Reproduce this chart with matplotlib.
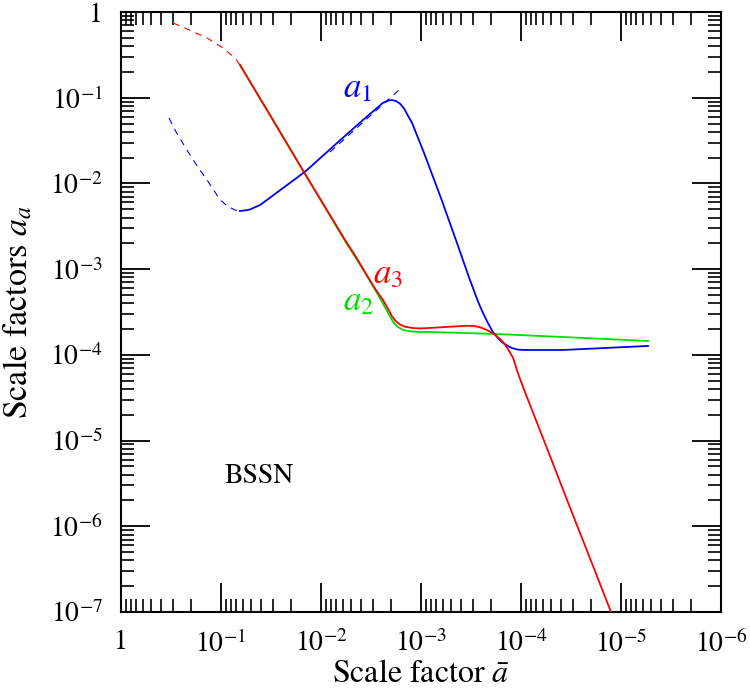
import numpy as np
import matplotlib
matplotlib.use("Agg")
import matplotlib.pyplot as plt
from matplotlib.ticker import LogLocator, FixedLocator, FixedFormatter, NullFormatter

# ---- data ----
# a3 (red): early-time dashed extension, then solid curve
red_dash_x = [0.302, 0.229, 0.138, 0.0955, 0.0724, 0.0646]
red_dash_y = [0.744, 0.651, 0.497, 0.380, 0.290, 0.241]
red_x = [0.0646, 0.0324, 0.0138, 5.75e-3, 4.47e-3, 3.55e-3, 2.88e-3, 2.40e-3,
         2.14e-3, 1.95e-3, 1.78e-3, 1.62e-3, 1.45e-3, 1.23e-3, 1.02e-3,
         8.13e-4, 5.13e-4, 3.63e-4, 3.02e-4, 2.57e-4, 2.24e-4, 2.00e-4, 1.78e-4,
         1.62e-4, 1.48e-4, 1.35e-4, 1.20e-4, 1.07e-4, 9.55e-5, 8.32e-5, 5.75e-5,
         3.24e-5, 1.86e-5, 1.26e-5, 1.12e-5]
red_y = [0.241, 0.0629, 0.0118, 2.19e-3, 1.39e-3, 8.80e-4, 5.92e-4, 4.37e-4,
         3.45e-4, 2.82e-4, 2.45e-4, 2.26e-4, 2.13e-4, 2.06e-4, 2.03e-4,
         2.06e-4, 2.13e-4, 2.18e-4, 2.18e-4, 2.10e-4, 1.97e-4, 1.84e-4, 1.68e-4,
         1.53e-4, 1.37e-4, 1.17e-4, 9.19e-5, 6.07e-5, 4.22e-5, 2.79e-5, 9.29e-6,
         1.66e-6, 3.20e-7, 1.0e-7, 7.05e-8]

# a2 (green)
green_x = [0.0646, 0.0324, 0.0138, 5.75e-3, 3.55e-3, 2.45e-3, 2.19e-3, 2.00e-3,
           1.86e-3, 1.70e-3, 1.51e-3, 1.29e-3, 1.02e-3, 8.13e-4, 1.74e-4,
           3.80e-5, 5.37e-6]
green_y = [0.241, 0.0629, 0.0118, 2.13e-3, 8.77e-4, 4.14e-4, 3.26e-4, 2.68e-4,
           2.34e-4, 2.11e-4, 1.95e-4, 1.88e-4, 1.85e-4, 1.85e-4, 1.75e-4,
           1.615e-4, 1.45e-4]

# a1 (blue): early-time dashed extension, solid curve, dashed asymptote
blue_dash_x = [0.331, 0.285, 0.219, 0.174, 0.138, 0.102, 0.0851, 0.0724, 0.0646]
blue_dash_y = [0.058, 0.0409, 0.0245, 0.0161, 0.01096, 6.41e-3, 5.38e-3,
               4.90e-3, 4.77e-3]
blue_x = [0.0646, 0.0575, 0.0513, 0.0407, 0.0324, 0.0240, 0.0182, 0.0138,
          6.92e-3, 3.80e-3, 2.40e-3, 2.14e-3, 1.95e-3, 1.78e-3, 1.62e-3,
          1.48e-3, 1.35e-3, 1.23e-3, 9.33e-4, 6.31e-4, 4.47e-4, 3.24e-4,
          2.69e-4, 2.40e-4, 2.14e-4, 1.91e-4, 1.70e-4, 1.51e-4, 1.35e-4,
          1.23e-4, 1.07e-4, 9.55e-5, 3.80e-5, 5.37e-6]
blue_y = [4.77e-3, 4.84e-3, 4.97e-3, 5.60e-3, 6.81e-3, 8.84e-3, 0.0112,
          0.01434, 0.0296, 0.0550, 0.0872, 0.0925, 0.0940, 0.0915, 0.0851,
          0.0752, 0.0617, 0.0510, 0.0227, 6.74e-3, 2.18e-3, 7.47e-4,
          4.18e-4, 3.08e-4, 2.35e-4, 1.85e-4, 1.57e-4, 1.375e-4, 1.27e-4,
          1.20e-4, 1.15e-4, 1.14e-4, 1.14e-4, 1.27e-4]
blue_asym_x = [8.13e-3, 1.62e-3]
blue_asym_y = [0.02326, 0.1264]

x_ticks = [1, 1e-1, 1e-2, 1e-3, 1e-4, 1e-5, 1e-6]
x_tick_labels = ['1', r'$10^{-1}$', r'$10^{-2}$', r'$10^{-3}$', r'$10^{-4}$',
                 r'$10^{-5}$', r'$10^{-6}$']
y_ticks = [1, 1e-1, 1e-2, 1e-3, 1e-4, 1e-5, 1e-6, 1e-7]
y_tick_labels = ['1', r'$10^{-1}$', r'$10^{-2}$', r'$10^{-3}$', r'$10^{-4}$',
                 r'$10^{-5}$', r'$10^{-6}$', r'$10^{-7}$']

# ---- style ----
plt.rcParams['font.family'] = ['STIXGeneral', 'Liberation Serif', 'DejaVu Serif']
plt.rcParams['mathtext.fontset'] = 'stix'

BLUE = '#0000ff'
RED = '#ff0000'
GREEN = '#00e000'

fig = plt.figure(figsize=(7.5, 6.9), dpi=100)
ax = fig.add_axes([121/750, 78/690, 600/750, 600/690])
ax.set_xscale('log')
ax.set_yscale('log')

lw = 1.3
ax.plot(green_x, green_y, color=GREEN, lw=lw, zorder=3)
ax.plot(blue_x, blue_y, color=BLUE, lw=lw, zorder=3)
ax.plot(red_x, red_y, color=RED, lw=lw, zorder=4)
ax.plot(red_dash_x, red_dash_y, color=RED, lw=0.8, dashes=(6, 5), zorder=3)
ax.plot(blue_dash_x, blue_dash_y, color=BLUE, lw=0.8, dashes=(6, 5), zorder=3)
ax.plot(blue_asym_x, blue_asym_y, color=BLUE, lw=0.8, dashes=(6, 5), zorder=2)

ax.set_xlim(1, 1e-6)
ax.set_ylim(1e-7, 1)

ax.xaxis.set_major_locator(FixedLocator(x_ticks))
ax.xaxis.set_major_formatter(FixedFormatter(x_tick_labels))
ax.yaxis.set_major_locator(FixedLocator(y_ticks))
ax.yaxis.set_major_formatter(FixedFormatter(y_tick_labels))
ax.xaxis.set_minor_locator(LogLocator(base=10, subs=np.arange(2, 10), numticks=100))
ax.yaxis.set_minor_locator(LogLocator(base=10, subs=np.arange(2, 10), numticks=100))
ax.xaxis.set_minor_formatter(NullFormatter())
ax.yaxis.set_minor_formatter(NullFormatter())

ax.tick_params(axis='both', which='major', direction='in', top=True, right=True,
               length=21, width=1.3, color='black', labelsize=20, pad=13)
ax.tick_params(axis='both', which='minor', direction='in', top=True, right=True,
               length=9.5, width=1.2, color='black')
for s in ax.spines.values():
    s.set_linewidth(1.5)

ax.set_xlabel(r'Scale factor $\bar{a}$', fontsize=23)
ax.set_ylabel(r'Scale factors $a_a$', fontsize=24.5)
ax.xaxis.set_label_coords(0.5, -0.08)
ax.yaxis.set_label_coords(-0.142, 0.5)

ax.text(0.37, 0.858, r'$a_1$', color=BLUE, fontsize=25, transform=ax.transAxes)
ax.text(0.42, 0.548, r'$a_3$', color=RED, fontsize=25, transform=ax.transAxes)
ax.text(0.37, 0.503, r'$a_2$', color=GREEN, fontsize=25, transform=ax.transAxes)
ax.text(0.173, 0.215, 'BSSN', color='black', fontsize=20, transform=ax.transAxes)

fig.savefig('out.png', dpi=100)
